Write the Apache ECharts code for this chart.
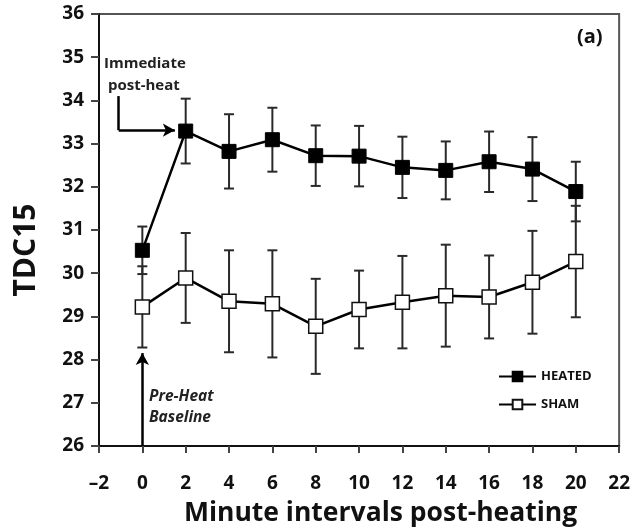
<!DOCTYPE html>
<html>
<head>
<meta charset="utf-8">
<script src="https://cdn.jsdelivr.net/npm/echarts@6/dist/echarts.min.js"></script>
<style>
  html, body { margin: 0; padding: 0; background: #fff; }
  #chart { width: 633px; height: 532px; }
</style>
</head>
<body>
<div id="chart"></div>
<script>
const minutes = [0, 2, 4, 6, 8, 10, 12, 14, 16, 18, 20]
const heatedMean = [30.53, 33.29, 32.82, 33.09, 32.72, 32.71, 32.45, 32.38, 32.58, 32.41, 31.89]
const heatedErr = [0.55, 0.75, 0.86, 0.74, 0.70, 0.70, 0.71, 0.67, 0.70, 0.74, 0.69]
const shamMean = [29.22, 29.89, 29.35, 29.29, 28.77, 29.16, 29.33, 29.48, 29.45, 29.79, 30.27]
const shamErr = [0.94, 1.04, 1.18, 1.24, 1.10, 0.90, 1.07, 1.18, 0.96, 1.19, 1.29]

const FONT = '"Open Sans", sans-serif'
const INK = '#111'

const chart = echarts.init(document.getElementById('chart'))

function errData(mean, err) {
  return minutes.map((m, i) => [m, mean[i] - err[i], mean[i] + err[i]])
}

function renderErr(params, api) {
  const lo = api.coord([api.value(0), api.value(1)])
  const hi = api.coord([api.value(0), api.value(2)])
  const cap = 5
  const style = { stroke: '#2a2a2a', lineWidth: 2 }
  return {
    type: 'group',
    children: [
      { type: 'line', shape: { x1: lo[0], y1: lo[1], x2: hi[0], y2: hi[1] }, style },
      { type: 'line', shape: { x1: lo[0] - cap, y1: lo[1], x2: lo[0] + cap, y2: lo[1] }, style },
      { type: 'line', shape: { x1: hi[0] - cap, y1: hi[1], x2: hi[0] + cap, y2: hi[1] }, style },
    ],
  }
}

const option = {
  animation: false,
  textStyle: { fontFamily: FONT },
  grid: {
    left: 99,
    right: 13,
    top: 14,
    bottom: 83,
    show: true,
    borderColor: '#555',
    borderWidth: 2,
  },
  legend: {
    data: ['HEATED', 'SHAM'],
    orient: 'vertical',
    left: 493,
    top: 365,
    itemWidth: 37,
    itemHeight: 12,
    itemGap: 15,
    textStyle: { fontFamily: FONT, fontSize: 13, fontWeight: 'bold', color: INK },
  },
  xAxis: {
    type: 'value',
    min: -2,
    max: 22,
    interval: 2,
    splitLine: { show: false },
    axisLine: { lineStyle: { color: INK, width: 2 } },
    axisTick: { show: true, length: 7, lineStyle: { color: '#444', width: 2 } },
    axisLabel: {
      fontSize: 19,
      fontWeight: 'bold',
      color: INK,
      margin: 28,
      formatter: (v) => String(v).replace('-', '\u2013'),
    },
    name: 'Minute intervals post-heating',
    nameLocation: 'middle',
    nameGap: 54,
    nameTextStyle: { fontSize: 26.5, fontWeight: 'bold', color: INK, padding: [0, 0, 0, 43] },
  },
  yAxis: {
    type: 'value',
    min: 26,
    max: 36,
    interval: 1,
    splitLine: { show: false },
    axisLine: { show: true, onZero: false, lineStyle: { color: INK, width: 2 } },
    axisTick: { show: true, length: 8, lineStyle: { color: '#444', width: 2 } },
    axisLabel: { fontSize: 19, fontWeight: 'bold', color: INK, margin: 15 },
    name: 'TDC15',
    nameLocation: 'middle',
    nameRotate: 90,
    nameGap: 58,
    nameTextStyle: { fontSize: 30, fontWeight: 'bold', color: INK, padding: [0, 40, 0, 0] },
  },
  graphic: [
    {
      type: 'text',
      left: 104,
      top: 53,
      style: {
        text: 'Immediate\n post-heat',
        font: 'bold 15px ' + FONT,
        fill: '#222',
        lineHeight: 22,
      },
    },
    {
      type: 'text',
      left: 577,
      top: 27,
      style: { text: '(a)', font: 'bold 20px ' + FONT, fill: INK },
    },
    {
      type: 'text',
      left: 149,
      top: 386,
      style: {
        text: 'Pre-Heat\nBaseline',
        font: 'italic bold 15.5px ' + FONT,
        fill: '#222',
        lineHeight: 21,
      },
    },
  ],
  series: [
    {
      name: 'HEATED-err',
      type: 'custom',
      renderItem: renderErr,
      data: errData(heatedMean, heatedErr),
      z: 1,
      silent: true,
    },
    {
      name: 'SHAM-err',
      type: 'custom',
      renderItem: renderErr,
      data: errData(shamMean, shamErr),
      z: 1,
      silent: true,
    },
    {
      name: 'HEATED',
      type: 'line',
      data: minutes.map((m, i) => [m, heatedMean[i]]),
      symbol: 'rect',
      symbolSize: 14,
      lineStyle: { color: '#000', width: 2.5 },
      itemStyle: { color: '#000', borderColor: '#000', borderWidth: 1 },
      z: 3,
      markLine: {
        silent: true,
        symbol: ['none', 'arrow'],
        symbolSize: [10, 12],
        label: { show: false },
        lineStyle: { color: '#000', width: 2.5, type: 'solid' },
        data: [
          [{ coord: [-1.09, 34.1], symbol: 'none' }, { coord: [-1.09, 33.31], symbol: 'none' }],
          [{ coord: [-1.09, 33.31] }, { coord: [1.5, 33.31] }],
          [{ coord: [0, 26] }, { coord: [0, 28.15] }],
        ],
      },
    },
    {
      name: 'SHAM',
      type: 'line',
      data: minutes.map((m, i) => [m, shamMean[i]]),
      symbol: 'rect',
      symbolSize: 14,
      lineStyle: { color: '#000', width: 2.5 },
      itemStyle: { color: '#fff', borderColor: '#111', borderWidth: 1.5 },
      z: 3,
    },
  ],
}

chart.setOption(option)
</script>
</body>
</html>
